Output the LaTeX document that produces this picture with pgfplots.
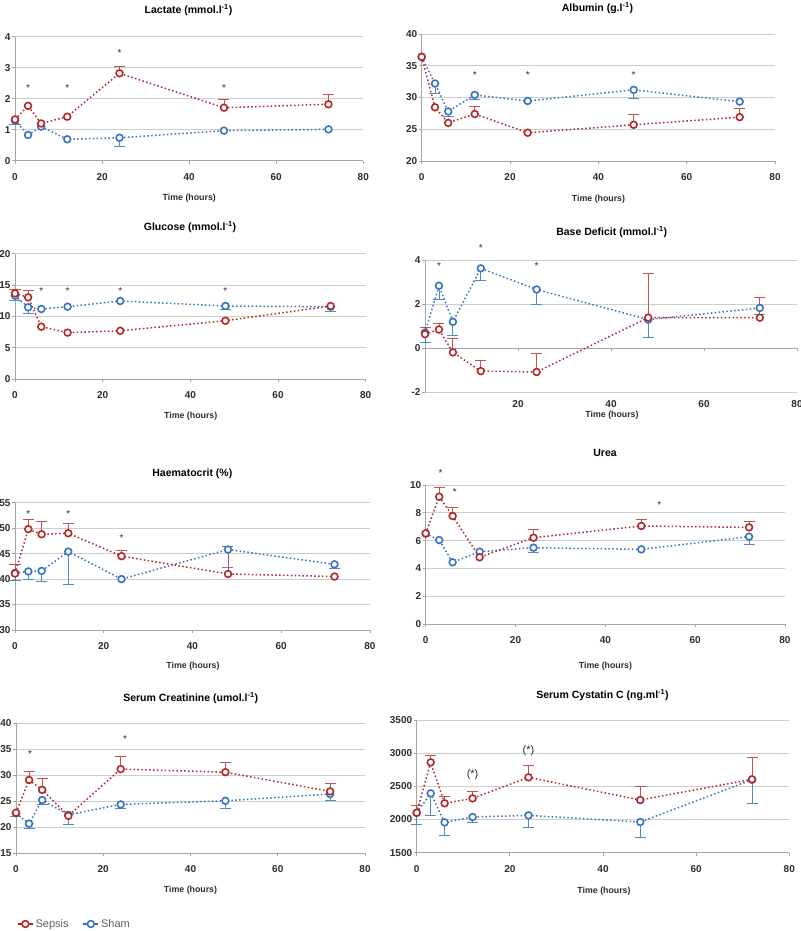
\documentclass[border=0pt]{standalone}
\usepackage{fontspec}
\setmainfont{Liberation Sans}
\usepackage{pgfplots}
\pgfplotsset{compat=1.18}

\definecolor{sepred}{RGB}{180,38,40}
\definecolor{shamblue}{RGB}{55,115,195}
\definecolor{sepredl}{RGB}{196,80,80}
\definecolor{shambluel}{RGB}{80,135,205}
\definecolor{gridgray}{RGB}{205,205,205}
\definecolor{axisgray}{RGB}{165,165,165}
\definecolor{tickgray}{RGB}{45,45,45}
\definecolor{leggray}{RGB}{95,95,95}

\newcommand{\ttl}{\fontsize{10.5}{12}\selectfont\bfseries}
\newcommand{\tks}{\fontsize{10}{12}\selectfont\bfseries}
\newcommand{\xlab}{\fontsize{8.8}{10}\selectfont\bfseries}

\pgfplotsset{
  panel/.style={
    scale only axis, anchor=south west,
    xmin=0, xmax=80, xtick={0,20,40,60,80},
    axis x line*=bottom, axis y line*=left,
    axis line style={axisgray, line width=0.8pt},
    ymajorgrids, grid style={gridgray, line width=0.8pt},
    tick align=outside, major tick length=3pt,
    tick style={axisgray, line width=0.8pt},
    tick label style={font=\tks, text=tickgray},
    xticklabel style={yshift=-6pt},
    yticklabel style={xshift=2pt},
    /pgf/number format/assume math mode=true,
    /pgf/number format/1000 sep={},
    clip=false,
  },
  sepsis/.style={sepred, line width=1.5pt, dash pattern=on 1.5pt off 2.4pt,
    mark=*, mark size=3.4pt, mark options={solid, fill=white, line width=1.6pt}},
  sham/.style={shamblue, line width=1.5pt, dash pattern=on 1.5pt off 2.4pt,
    mark=*, mark size=3.4pt, mark options={solid, fill=white, line width=1.6pt}},
  seperr/.style={forget plot, only marks, mark=none,
    error bars/.cd, y dir=plus, y explicit,
    error bar style={sepredl, line width=0.9pt, solid},
    error mark options={sepredl, line width=0.9pt, mark size=5.5pt, rotate=90}},
  shamerr/.style={forget plot, only marks, mark=none,
    error bars/.cd, y dir=minus, y explicit,
    error bar style={shambluel, line width=0.9pt, solid},
    error mark options={shambluel, line width=0.9pt, mark size=5.5pt, rotate=90}},
}
\tikzset{star/.style={font=\fontsize{10}{12}\selectfont, text=tickgray, yshift=-2pt}}

\begin{document}
\begin{tikzpicture}
\path[use as bounding box] (0,0) rectangle (800pt,931pt);

% Lactate
\begin{axis}[panel, at={(15pt,770.3pt)}, width=348.3pt, height=124pt,
  ymin=0, ymax=4, ytick={0,1,2,3,4}]
\addplot[shamerr] table[row sep=\\, y error=e] {t y e\\ 0 1.30 0.12\\ 24 0.74 0.27\\};
\addplot[seperr] table[row sep=\\, y error=e] {t y e\\ 24 2.82 0.23\\ 48 1.71 0.25\\ 72 1.82 0.31\\};
\addplot[sham] table[row sep=\\] {t y\\ 0 1.30\\ 3 0.83\\ 6 1.10\\ 12 0.69\\ 24 0.74\\ 48 0.97\\ 72 1.01\\};
\addplot[sepsis] table[row sep=\\] {t y\\ 0 1.33\\ 3 1.77\\ 6 1.20\\ 12 1.42\\ 24 2.82\\ 48 1.71\\ 72 1.82\\};
\node[star] at (axis cs:3,2.41) {*};
\node[star] at (axis cs:12,2.41) {*};
\node[star] at (axis cs:24,3.55) {*};
\node[star] at (axis cs:48,2.41) {*};
\end{axis}

% Albumin
\begin{axis}[panel, at={(421.7pt,770pt)}, width=353.3pt, height=127pt,
  ymin=20, ymax=40, ytick={20,25,30,35,40}]
\addplot[shamerr] table[row sep=\\, y error=e] {t y e\\ 3 32.2 1.55\\ 6 27.8 0.8\\ 12 30.4 0.7\\ 48 31.2 1.4\\};
\addplot[seperr] table[row sep=\\, y error=e] {t y e\\ 12 27.4 1.26\\ 48 25.7 1.7\\ 72 26.9 1.3\\};
\addplot[sham] table[row sep=\\] {t y\\ 0 36.4\\ 3 32.2\\ 6 27.8\\ 12 30.4\\ 24 29.45\\ 48 31.2\\ 72 29.35\\};
\addplot[sepsis] table[row sep=\\] {t y\\ 0 36.4\\ 3 28.45\\ 6 26.0\\ 12 27.4\\ 24 24.45\\ 48 25.7\\ 72 26.9\\};
\node[star] at (axis cs:12,33.8) {*};
\node[star] at (axis cs:24,33.8) {*};
\node[star] at (axis cs:48,33.8) {*};
\end{axis}

% Glucose
\begin{axis}[panel, at={(15pt,552pt)}, width=350.7pt, height=125.3pt,
  ymin=0, ymax=20, ytick={0,5,10,15,20}]
\addplot[shamerr] table[row sep=\\, y error=e] {t y e\\ 0 13.3 0.7\\ 3 11.44 0.94\\ 48 11.65 0.55\\ 72 11.54 0.8\\};
\addplot[seperr] table[row sep=\\, y error=e] {t y e\\ 0 13.67 0.63\\ 3 13.03 1.07\\};
\addplot[sham] table[row sep=\\] {t y\\ 0 13.3\\ 3 11.44\\ 6 11.17\\ 12 11.54\\ 24 12.45\\ 48 11.65\\ 72 11.54\\};
\addplot[sepsis] table[row sep=\\] {t y\\ 0 13.67\\ 3 13.03\\ 6 8.35\\ 12 7.4\\ 24 7.7\\ 48 9.3\\ 72 11.65\\};
\node[star] at (axis cs:6,14.36) {*};
\node[star] at (axis cs:12,14.36) {*};
\node[star] at (axis cs:24,14.36) {*};
\node[star] at (axis cs:48,14.36) {*};
\end{axis}

% Base deficit
\begin{axis}[panel, at={(425pt,539pt)}, width=372pt, height=132pt,
  axis x line*=middle, axis y line*=left,
  hide obscured x ticks=false, hide obscured y ticks=false,
  xtick={20,40,60,80}, xticklabel style={yshift=-40pt},
  ymin=-2, ymax=4, ytick={-2,0,2,4}]
\addplot[shamerr] table[row sep=\\, y error=e] {t y e\\ 0 0.7 0.45\\ 3 2.83 0.63\\ 6 1.19 0.61\\ 12 3.62 0.53\\ 24 2.66 0.68\\ 48 1.29 0.79\\ 72 1.82 0.3\\};
\addplot[seperr] table[row sep=\\, y error=e] {t y e\\ 0 0.63 0.30\\ 3 0.84 0.28\\ 6 -0.2 0.63\\ 12 -1.05 0.49\\ 24 -1.09 0.84\\ 48 1.38 2.01\\ 72 1.38 0.9\\};
\addplot[sham] table[row sep=\\] {t y\\ 0 0.7\\ 3 2.83\\ 6 1.19\\ 12 3.62\\ 24 2.66\\ 48 1.29\\ 72 1.82\\};
\addplot[sepsis] table[row sep=\\] {t y\\ 0 0.63\\ 3 0.84\\ 6 -0.2\\ 12 -1.05\\ 24 -1.09\\ 48 1.38\\ 72 1.38\\};
\node[star] at (axis cs:3,3.82) {*};
\node[star] at (axis cs:12,4.64) {*};
\node[star] at (axis cs:24,3.82) {*};
\end{axis}

% Haematocrit
\begin{axis}[panel, at={(15pt,301pt)}, width=355pt, height=127.3pt,
  ymin=30, ymax=55, ytick={30,35,40,45,50,55}]
\addplot[shamerr] table[row sep=\\, y error=e] {t y e\\ 0 41.2 1.4\\ 3 41.5 1.6\\ 6 41.6 2.1\\ 12 45.4 6.5\\ 48 45.8 3.5\\ 72 42.9 0.8\\};
\addplot[seperr] table[row sep=\\, y error=e] {t y e\\ 0 41.1 1.7\\ 3 49.8 2.0\\ 6 48.8 2.5\\ 12 49.0 2.0\\ 24 44.5 1.1\\ 48 41.0 5.4\\};
\addplot[sham] table[row sep=\\] {t y\\ 0 41.2\\ 3 41.5\\ 6 41.6\\ 12 45.4\\ 24 40.0\\ 48 45.8\\ 72 42.9\\};
\addplot[sepsis] table[row sep=\\] {t y\\ 0 41.1\\ 3 49.8\\ 6 48.8\\ 12 49.0\\ 24 44.5\\ 48 41.0\\ 72 40.5\\};
\node[star] at (axis cs:3,53.2) {*};
\node[star] at (axis cs:12,53.2) {*};
\node[star] at (axis cs:24,48.5) {*};
\end{axis}

% Urea
\begin{axis}[panel, at={(425.7pt,307pt)}, width=359.3pt, height=139pt,
  ymin=0, ymax=10, ytick={0,2,4,6,8,10}]
\addplot[shamerr] table[row sep=\\, y error=e] {t y e\\ 24 5.49 0.36\\ 72 6.28 0.55\\};
\addplot[seperr] table[row sep=\\, y error=e] {t y e\\ 3 9.16 0.65\\ 6 7.77 0.62\\ 24 6.21 0.6\\ 48 7.05 0.48\\ 72 6.95 0.41\\};
\addplot[sham] table[row sep=\\] {t y\\ 0 6.5\\ 3 6.04\\ 6 4.44\\ 12 5.2\\ 24 5.49\\ 48 5.37\\ 72 6.28\\};
\addplot[sepsis] table[row sep=\\] {t y\\ 0 6.52\\ 3 9.16\\ 6 7.77\\ 12 4.8\\ 24 6.21\\ 48 7.05\\ 72 6.95\\};
\node[star] at (axis cs:3.3,11.03) {*};
\node[star] at (axis cs:6.5,9.64) {*};
\node[star] at (axis cs:52,8.73) {*};
\end{axis}

% Serum creatinine
\begin{axis}[panel, at={(16pt,77.7pt)}, width=349pt, height=130pt,
  ymin=15, ymax=40, ytick={15,20,25,30,35,40},
  legend image code/.code={\draw[#1, solid, mark repeat=2, mark phase=2] plot coordinates {(0pt,0pt) (7.5pt,0pt) (15pt,0pt)};},
  legend style={at={(-0.006,-0.544)}, anchor=west, legend columns=2, draw=none, fill=none,
    font=\fontsize{11}{13}\selectfont, text=leggray,
    /tikz/every even column/.append style={column sep=12pt}},
  legend cell align=left]
\addlegendimage{sepsis}\addlegendentry{Sepsis}
\addlegendimage{sham}\addlegendentry{Sham}
\addplot[shamerr] table[row sep=\\, y error=e] {t y e\\ 0 22.7 0.7\\ 3 20.7 0.9\\ 6 25.25 0.95\\ 12 22.4 1.9\\ 24 24.4 0.8\\ 48 25.1 1.4\\ 72 26.4 1.3\\};
\addplot[seperr] table[row sep=\\, y error=e] {t y e\\ 3 29.1 1.6\\ 6 27.2 2.2\\ 24 31.2 2.5\\ 48 30.6 1.8\\ 72 26.9 1.6\\};
\addplot[sham] table[row sep=\\] {t y\\ 0 22.7\\ 3 20.7\\ 6 25.25\\ 12 22.4\\ 24 24.4\\ 48 25.1\\ 72 26.4\\};
\addplot[sepsis] table[row sep=\\] {t y\\ 0 22.8\\ 3 29.1\\ 6 27.2\\ 12 22.2\\ 24 31.2\\ 48 30.6\\ 72 26.9\\};
\node[star] at (axis cs:3.2,34.4) {*};
\node[star] at (axis cs:25,37.4) {*};
\end{axis}

% Serum cystatin C
\begin{axis}[panel, at={(416.7pt,78.3pt)}, width=372.6pt, height=132.7pt,
  ymin=1500, ymax=3500, ytick={1500,2000,2500,3000,3500}]
\addplot[shamerr] table[row sep=\\, y error=e] {t y e\\ 0 2100 168\\ 3 2394 326\\ 6 1957 201\\ 12 2038 86\\ 24 2063 181\\ 48 1962 236\\ 72 2600 356\\};
\addplot[seperr] table[row sep=\\, y error=e] {t y e\\ 0 2103 116\\ 3 2862 110\\ 6 2244 110\\ 12 2319 101\\ 24 2636 186\\ 48 2294 201\\ 72 2606 326\\};
\addplot[sham] table[row sep=\\] {t y\\ 0 2100\\ 3 2394\\ 6 1957\\ 12 2038\\ 24 2063\\ 48 1962\\ 72 2600\\};
\addplot[sepsis] table[row sep=\\] {t y\\ 0 2103\\ 3 2862\\ 6 2244\\ 12 2319\\ 24 2636\\ 48 2294\\ 72 2606\\};
\node[font=\fontsize{11}{13}\selectfont, text=tickgray] at (axis cs:12,2671) {(*)};
\node[font=\fontsize{11}{13}\selectfont, text=tickgray] at (axis cs:24,3038) {(*)};
\end{axis}

% titles
\node[font=\ttl] at (188.5pt,921pt) {Lactate (mmol.l\textsuperscript{-1})};
\node[font=\ttl] at (597.5pt,923pt) {Albumin (g.l\textsuperscript{-1})};
\node[font=\ttl] at (190pt,704pt) {Glucose (mmol.l\textsuperscript{-1})};
\node[font=\ttl] at (611.7pt,699pt) {Base Deficit (mmol.l\textsuperscript{-1})};
\node[font=\ttl] at (192.3pt,457pt) {Haematocrit (\%)};
\node[font=\ttl] at (605pt,478pt) {Urea};
\node[font=\ttl] at (190.7pt,233pt) {Serum Creatinine (umol.l\textsuperscript{-1})};
\node[font=\ttl] at (602.5pt,236pt) {Serum Cystatin C (ng.ml\textsuperscript{-1})};
% x labels
\node[font=\xlab, text=tickgray] at (189.3pt,733pt) {Time (hours)};
\node[font=\xlab, text=tickgray] at (598.5pt,732pt) {Time (hours)};
\node[font=\xlab, text=tickgray] at (190.7pt,514.3pt) {Time (hours)};
\node[font=\xlab, text=tickgray] at (612pt,516pt) {Time (hours)};
\node[font=\xlab, text=tickgray] at (193pt,264.3pt) {Time (hours)};
\node[font=\xlab, text=tickgray] at (605.5pt,264.3pt) {Time (hours)};
\node[font=\xlab, text=tickgray] at (190.5pt,40.3pt) {Time (hours)};
\node[font=\xlab, text=tickgray] at (604pt,40pt) {Time (hours)};
\end{tikzpicture}
\end{document}
